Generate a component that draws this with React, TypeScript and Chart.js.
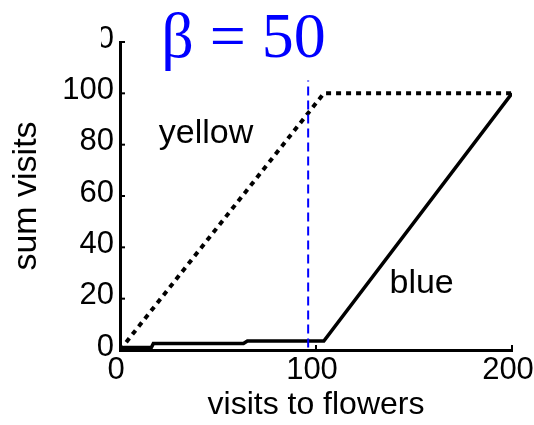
import React, { useEffect, useRef } from "react";
import { Chart, registerables } from "chart.js";

Chart.register(...registerables);

// Axis ticks
const xTickValues = [0, 100, 200];
const yTickValues = [0, 20, 40, 60, 80, 100, 120];

// Cumulative visits to yellow flowers (dotted)
const yellowVisitsX = [0, 104, 200];
const yellowSum = [0, 100, 100];

// Cumulative visits to blue flowers (solid)
const blueVisitsX = [0, 2, 16, 17, 63, 65, 104, 200];
const blueSum = [0, 1, 1, 2.5, 2.5, 3.5, 3.5, 100];

// Vertical dashed marker
const markerX = [96, 96];
const markerY = [1, 105];

const betaValue = 50;
const seriesNames = ["yellow", "blue"];

const FONT = "'Liberation Sans', Arial, Helvetica, sans-serif";

const toPoints = (xs: number[], ys: number[]) => xs.map((x, i) => ({ x, y: ys[i] }));

const annotate = {
  id: "annotate",
  afterDraw(chart: any) {
    const { ctx, chartArea } = chart;
    const x = chart.scales.x;
    const y = chart.scales.y;
    ctx.save();

    // inward tick marks
    ctx.strokeStyle = "#000";
    ctx.lineWidth = 2;
    x.ticks.forEach((t: any) => {
      const px = x.getPixelForValue(t.value);
      ctx.beginPath();
      ctx.moveTo(px, chartArea.bottom);
      ctx.lineTo(px, chartArea.bottom - 5);
      ctx.stroke();
    });
    y.ticks.forEach((t: any) => {
      const py = y.getPixelForValue(t.value);
      ctx.beginPath();
      ctx.moveTo(chartArea.left, py);
      ctx.lineTo(chartArea.left + 5, py);
      ctx.stroke();
    });

    // the figure is cut off at its top-left corner
    ctx.fillStyle = "#fff";
    ctx.fillRect(0, 0, 101, 56);

    // heading
    ctx.fillStyle = "rgb(0,0,255)";
    ctx.font = "64px 'Liberation Serif', 'Times New Roman', serif";
    ctx.textAlign = "left";
    ctx.textBaseline = "alphabetic";
    ctx.fillText(`\u03b2 = ${betaValue}`, x.getPixelForValue(21), 57);

    // series labels
    ctx.fillStyle = "#000";
    ctx.font = `34px ${FONT}`;
    ctx.fillText(seriesNames[0], x.getPixelForValue(19.8), y.getPixelForValue(80.6));
    ctx.fillText(seriesNames[1], x.getPixelForValue(137.5), y.getPixelForValue(22.2));

    ctx.restore();
  },
};

export default function App() {
  const canvasRef = useRef<HTMLCanvasElement | null>(null);

  useEffect(() => {
    if (!canvasRef.current) return;
    const chart = new Chart(canvasRef.current, {
      type: "line",
      data: {
        datasets: [
          {
            label: "marker",
            data: toPoints(markerX, markerY),
            borderColor: "rgb(0,0,255)",
            borderWidth: 2,
            borderDash: [9, 5],
            pointRadius: 0,
            fill: false,
          },
          {
            label: seriesNames[0],
            data: toPoints(yellowVisitsX, yellowSum),
            borderColor: "#000",
            borderWidth: 4,
            borderDash: [5, 5],
            borderCapStyle: "butt",
            pointRadius: 0,
            fill: false,
          },
          {
            label: seriesNames[1],
            data: toPoints(blueVisitsX, blueSum),
            borderColor: "#000",
            borderWidth: 3.5,
            pointRadius: 0,
            fill: false,
          },
        ],
      },
      options: {
        animation: false,
        responsive: false,
        layout: { padding: { top: 42, right: 22, left: 0, bottom: 0 } },
        plugins: {
          legend: { display: false },
          tooltip: { enabled: false },
          title: { display: false },
        },
        scales: {
          x: {
            type: "linear",
            min: 0,
            max: 200,
            grid: { display: false, drawTicks: false },
            border: { display: true, color: "#000", width: 3 },
            ticks: {
              color: "#000",
              font: { family: FONT, size: 31 },
              padding: 2,
              labelOffset: -4,
              maxRotation: 0,
              autoSkip: false,
            },
            title: {
              display: true,
              text: "visits to flowers",
              color: "#000",
              font: { family: FONT, size: 32 },
              padding: { top: 0, bottom: 1 },
            },
            afterBuildTicks: (s: any) => {
              s.ticks = xTickValues.map((v) => ({ value: v }));
            },
            afterFit: (s: any) => {
              s.height = 75;
              s.paddingLeft = 0;
              s.paddingRight = 0;
            },
          },
          y: {
            type: "linear",
            min: 0,
            max: 120,
            grid: { display: false, drawTicks: false },
            border: { display: true, color: "#000", width: 3 },
            ticks: {
              color: "#000",
              font: { family: FONT, size: 31 },
              padding: 6,
              labelOffset: -3,
              autoSkip: false,
            },
            title: {
              display: true,
              text: "sum visits",
              color: "#000",
              font: { family: FONT, size: 34 },
              padding: { top: 6, bottom: 0 },
            },
            afterBuildTicks: (s: any) => {
              s.ticks = yTickValues.map((v) => ({ value: v }));
            },
            afterFit: (s: any) => {
              s.width = 120;
              s.paddingTop = 0;
              s.paddingBottom = 0;
            },
          },
        },
      },
      plugins: [annotate],
    });
    return () => chart.destroy();
  }, []);

  return (
    <div style={{ position: "fixed", left: 0, top: 0, width: 534, height: 425, background: "#fff" }}>
      <canvas ref={canvasRef} width={534} height={425} style={{ display: "block" }} />
    </div>
  );
}
